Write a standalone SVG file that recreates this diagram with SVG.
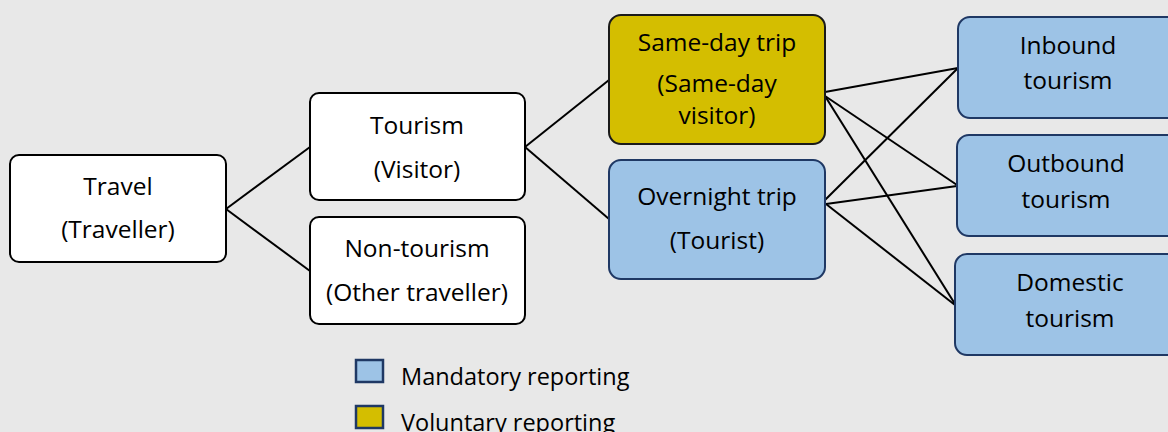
<svg xmlns="http://www.w3.org/2000/svg" width="1168" height="432" viewBox="0 0 1168 432">
<style>
.bg{fill:#E8E8E8}
.w{fill:#FFFFFF;stroke:#000;stroke-width:2}
.b{fill:#9DC3E6;stroke:#1F3864;stroke-width:2}
.y{fill:#D4BE00;stroke:#1a1a1a;stroke-width:2}
.lb{fill:#9DC3E6;stroke:#1F3864;stroke-width:2.5}
.ly{fill:#D4BE00;stroke:#1F3864;stroke-width:2.5}
text{font-family:"Open Sans","Noto Sans",sans-serif;font-size:24.5px;fill:#000;text-anchor:middle}
.leg{text-anchor:start;font-size:23.5px}
.c line{stroke:#000;stroke-width:2}
</style>
<rect class="bg" x="0" y="0" width="1168" height="432"/>
<g class="c" id="connectors">
<line x1="226" y1="209" x2="310" y2="147"/>
<line x1="226" y1="209" x2="310" y2="271"/>
<line x1="525" y1="147" x2="609" y2="80"/>
<line x1="525" y1="147" x2="609" y2="219"/>
<line x1="825" y1="92" x2="958" y2="68"/>
<line x1="825" y1="96" x2="957" y2="185"/>
<line x1="825" y1="96" x2="955" y2="304"/>
<line x1="825" y1="200" x2="958" y2="68"/>
<line x1="826" y1="204" x2="957" y2="186"/>
<line x1="826" y1="204" x2="955" y2="305"/>
</g>
<g id="travel"><rect class="w" x="10" y="155" width="216" height="107" rx="9"/><text x="118" y="195">Travel</text><text x="118" y="238">(Traveller)</text></g>
<g id="tourism"><rect class="w" x="310" y="93" width="215" height="107" rx="9"/><text x="417" y="134">Tourism</text><text x="417" y="178">(Visitor)</text></g>
<g id="nontourism"><rect class="w" x="310" y="217" width="215" height="107" rx="9"/><text x="417" y="257">Non-tourism</text><text x="417" y="301">(Other traveller)</text></g>
<g id="sameday"><rect class="y" x="609" y="15" width="216" height="129" rx="12"/><text x="717" y="51">Same-day trip</text><text x="717" y="92">(Same-day</text><text x="717" y="124">visitor)</text></g>
<g id="overnight"><rect class="b" x="609" y="160" width="216" height="119" rx="12"/><text x="717" y="205">Overnight trip</text><text x="717" y="249">(Tourist)</text></g>
<g id="inbound"><rect class="b" x="958" y="17" width="230" height="101" rx="12"/><text x="1068" y="54">Inbound</text><text x="1068" y="89">tourism</text></g>
<g id="outbound"><rect class="b" x="957" y="135" width="230" height="101" rx="12"/><text x="1066" y="172">Outbound</text><text x="1066" y="208">tourism</text></g>
<g id="domestic"><rect class="b" x="955" y="254" width="230" height="101" rx="12"/><text x="1070" y="291">Domestic</text><text x="1070" y="327">tourism</text></g>
<g id="legend">
<rect class="lb" x="356" y="360" width="27" height="22"/>
<text class="leg" x="401" y="385">Mandatory reporting</text>
<rect class="ly" x="356" y="406" width="27" height="22"/>
<text class="leg" x="401" y="431">Voluntary reporting</text>
</g>
</svg>
